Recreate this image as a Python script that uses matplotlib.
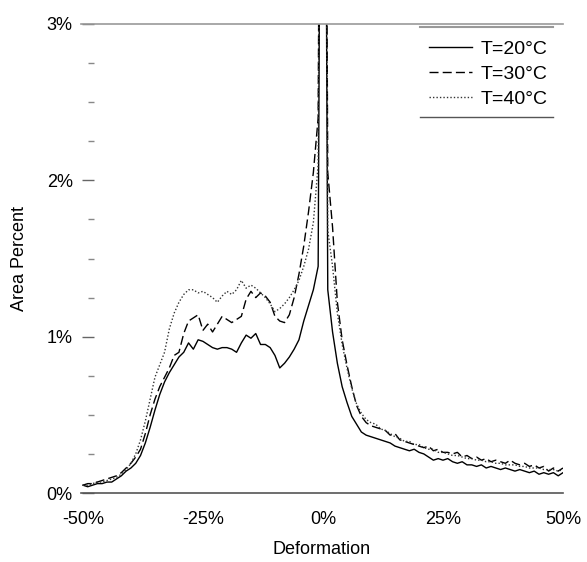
import numpy as np
import matplotlib
matplotlib.use("Agg")
import matplotlib.pyplot as plt
from matplotlib.ticker import MultipleLocator, FuncFormatter

plt.rcParams['font.family'] = ['Liberation Sans', 'DejaVu Sans']

# Deformation (%) sampled every 1 %
deformation = list(range(-50, 51))

# Area percent, T=20°C
t20 = [0.05, 0.04, 0.05, 0.06, 0.06, 0.07, 0.07, 0.09, 0.11, 0.14,
       0.16, 0.19, 0.24, 0.32, 0.42, 0.53, 0.63, 0.71, 0.77, 0.82,
       0.87, 0.90, 0.96, 0.92, 0.98, 0.97, 0.95, 0.93, 0.92, 0.93,
       0.93, 0.92, 0.90, 0.96, 1.01, 0.99, 1.02, 0.95, 0.95, 0.93,
       0.88, 0.80, 0.83, 0.87, 0.92, 0.98, 1.10, 1.20, 1.30, 1.45,
       8.00,
       1.30, 1.03, 0.83, 0.68, 0.58, 0.49, 0.44, 0.39, 0.37, 0.36,
       0.35, 0.34, 0.33, 0.32, 0.30, 0.29, 0.28, 0.27, 0.28, 0.26,
       0.25, 0.23, 0.21, 0.22, 0.21, 0.22, 0.20, 0.19, 0.20, 0.18,
       0.18, 0.17, 0.18, 0.16, 0.17, 0.16, 0.15, 0.16, 0.15, 0.14,
       0.15, 0.14, 0.13, 0.14, 0.12, 0.13, 0.12, 0.13, 0.11, 0.13]

# Area percent, T=30°C
t30 = [0.05, 0.06, 0.06, 0.07, 0.08, 0.09, 0.10, 0.11, 0.13, 0.16,
       0.19, 0.23, 0.28, 0.38, 0.50, 0.60, 0.68, 0.74, 0.80, 0.88,
       0.90, 1.02, 1.10, 1.12, 1.14, 1.04, 1.08, 1.03, 1.08, 1.13,
       1.11, 1.09, 1.11, 1.13, 1.24, 1.29, 1.25, 1.28, 1.26, 1.22,
       1.13, 1.10, 1.09, 1.14, 1.25, 1.40, 1.58, 1.80, 2.05, 2.40,
       8.50,
       2.05, 1.70, 1.22, 0.98, 0.82, 0.68, 0.56, 0.49, 0.45, 0.43,
       0.42, 0.41, 0.40, 0.37, 0.38, 0.34, 0.33, 0.32, 0.31, 0.30,
       0.29, 0.30, 0.27, 0.28, 0.26, 0.26, 0.25, 0.26, 0.23, 0.24,
       0.22, 0.23, 0.21, 0.22, 0.20, 0.21, 0.20, 0.19, 0.21, 0.19,
       0.18, 0.19, 0.17, 0.18, 0.16, 0.17, 0.14, 0.16, 0.14, 0.16]

# Area percent, T=40°C
t40 = [0.05, 0.05, 0.06, 0.07, 0.07, 0.08, 0.09, 0.10, 0.12, 0.15,
       0.19, 0.25, 0.34, 0.46, 0.60, 0.74, 0.82, 0.90, 1.05, 1.15,
       1.22, 1.27, 1.30, 1.30, 1.28, 1.29, 1.27, 1.25, 1.22, 1.26,
       1.29, 1.27, 1.30, 1.36, 1.31, 1.33, 1.31, 1.28, 1.25, 1.21,
       1.16, 1.18, 1.21, 1.25, 1.30, 1.36, 1.45, 1.56, 1.73, 2.10,
       8.20,
       1.68, 1.45, 1.15, 0.95, 0.80, 0.67, 0.57, 0.51, 0.47, 0.45,
       0.44, 0.41, 0.40, 0.38, 0.36, 0.35, 0.33, 0.33, 0.31, 0.31,
       0.29, 0.28, 0.28, 0.26, 0.26, 0.25, 0.24, 0.24, 0.23, 0.22,
       0.22, 0.21, 0.21, 0.20, 0.20, 0.19, 0.19, 0.18, 0.18, 0.18,
       0.17, 0.17, 0.16, 0.16, 0.16, 0.15, 0.15, 0.15, 0.14, 0.15]

x_ticks = [-50, -25, 0, 25, 50]
y_ticks = [0, 1, 2, 3]

fig = plt.figure(figsize=(5.87, 5.62), dpi=100)
ax = fig.add_axes([81 / 587, 1 - 493 / 562, 482 / 587, 469 / 562])

ax.plot(deformation, t20, color='black', linewidth=1.0, label='T=20°C')
ax.plot(deformation, t30, color='black', linewidth=1.0,
        linestyle=(0, (6.5, 3)), label='T=30°C')
ax.plot(deformation, t40, color='#333333', linewidth=1.0,
        linestyle=(0, (1, 1.5)), label='T=40°C')

ax.set_xlim(-50.4, 50)
ax.set_ylim(0, 3)

ax.set_xticks(x_ticks)
ax.xaxis.set_major_formatter(FuncFormatter(lambda v, p: f'{v:.0f}%'))
ax.set_yticks(y_ticks)
ax.yaxis.set_minor_locator(MultipleLocator(0.25))
ax.yaxis.set_major_formatter(FuncFormatter(lambda v, p: f'{v:.0f}%'))

ax.tick_params(axis='x', length=0, pad=13, labelsize=13)
ax.tick_params(axis='y', which='major', direction='inout', length=9,
               width=1, color='#666666', pad=6.5, labelsize=13)
ax.tick_params(axis='y', which='minor', direction='in', length=4,
               width=1, color='#888888')

ax.spines['left'].set_visible(False)
ax.spines['left'].set_position(('outward', -5))
ax.spines['right'].set_visible(False)
ax.spines['top'].set_color('#999999')
ax.spines['bottom'].set_color('#555555')
ax.spines['top'].set_linewidth(1.2)
ax.spines['bottom'].set_linewidth(1.2)

ax.set_xlabel('Deformation', fontsize=13, labelpad=9)
ax.set_ylabel('Area Percent', fontsize=13, labelpad=13)

leg = ax.legend(loc='upper left', bbox_to_anchor=(0.722, 0.966),
                frameon=False, fontsize=14, borderpad=0, borderaxespad=0,
                handlelength=2.2, handletextpad=0.45, labelspacing=0.38)

# legend box top / bottom rules
ax.plot([0.704, 0.98], [0.993, 0.993], transform=ax.transAxes,
        color='#999999', linewidth=1.5, clip_on=False)
ax.plot([0.704, 0.98], [0.801, 0.801], transform=ax.transAxes,
        color='#555555', linewidth=1.0, clip_on=False)

fig.savefig('out.png', dpi=100)
